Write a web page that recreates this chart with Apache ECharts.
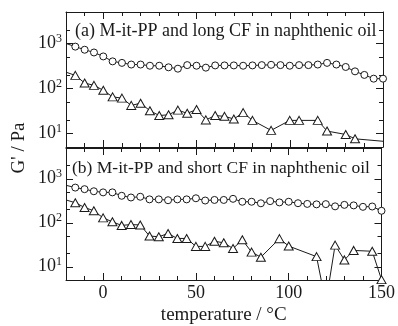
<!DOCTYPE html>
<html><head><meta charset="utf-8">
<script src="https://cdn.jsdelivr.net/npm/echarts@6/dist/echarts.min.js"></script>
<style>html,body{margin:0;padding:0;background:#fff}#c{width:398px;height:326px}</style>
</head><body><div id="c"></div>
<script>
// ---- data (G' in Pa versus temperature in °C) ----
const temperatures = [-20,-15,-10,-5,0,5,10,15,20,25,30,35,40,45,50,55,60,65,70,75,80,85,90,95,100,105,110,115,120,125,130,135,140,145,150];
// (a) long CF
const longCircles   = [1000,850,725,630,515,400,370,340,340,320,320,295,275,330,320,290,325,325,325,320,325,330,335,330,320,330,330,340,370,340,300,240,200,165,165];
const longTriangles = [230,195,132,117,91,65,61,42,47,32,25,26,33,28,34,20,25,24,21,29,19.5,null,11.7,null,19.5,19.5,null,19.5,11.3,null,9.5,7.6,null,null,6.7];
// (b) short CF
const shortCircles   = [710,630,580,520,490,490,410,375,390,340,340,325,340,340,360,320,330,330,350,300,300,277,310,290,300,278,268,262,265,236,255,248,230,234,187];
const shortTriangles = [330,285,223,187,129,105,87,91,89,50,48,57,44,44,29,29,38,35,26,41,21.5,16.5,null,43.5,29.5,null,null,17,1.5,31,14.3,23.5,null,22.5,5.1];
const panelTitles = ['(a) M-it-PP and long CF in naphthenic oil', '(b) M-it-PP and short CF in naphthenic oil'];
const xTickLabels = [0, 50, 100, 150];
const yDecades = [10, 100, 1000];
const yMinorValues = [20, 50, 200, 500, 2000];
const xTitle = 'temperature / °C';
const yTitle = "G' / Pa";

// ---- chart ----
const FONT = 'Liberation Serif';
const INK = '#1a1a1a';
const Y_MIN = 5, Y_MAX = 5000;
const lg = Math.log10;
const grids = [
  {left: 66, top: 12, width: 317, height: 135},
  {left: 66, top: 148, width: 317, height: 135}
];
const xAxes = [], yAxes = [], series = [];
const lineStyle = {color: INK, width: 1};

function addX(g, pos, major) {
  const ax = {
    gridIndex: g, type: 'value', min: -20, max: 150, position: pos,
    axisLine: {show: !major, onZero: false, lineStyle: lineStyle},
    axisTick: {show: true, inside: true, length: major ? 7 : 4, lineStyle: lineStyle},
    axisLabel: {show: false},
    splitLine: {show: false}
  };
  if (major) ax.axisTick.customValues = xTickLabels;
  else ax.interval = 10;
  if (major && g === 1 && pos === 'bottom') {
    ax.axisLabel = {show: true, customValues: xTickLabels, margin: 4,
      fontFamily: FONT, fontSize: 18, color: INK};
    ax.name = xTitle; ax.nameLocation = 'middle'; ax.nameGap = 26;
    ax.nameTextStyle = {fontFamily: FONT, fontSize: 19, color: INK};
  }
  xAxes.push(ax);
  return xAxes.length - 1;
}
function addYTicks(g, pos, major) {
  const ax = {
    gridIndex: g, type: 'value', min: lg(Y_MIN), max: lg(Y_MAX), position: pos,
    axisLine: {show: major, onZero: false, lineStyle: lineStyle},
    axisTick: {show: true, inside: true, length: major ? 7 : 4, lineStyle: lineStyle,
      customValues: (major ? yDecades : yMinorValues).map(lg)},
    axisLabel: {show: false},
    splitLine: {show: false}
  };
  if (major && pos === 'left') {
    ax.axisLabel = {show: true, customValues: yDecades.map(lg), margin: 4,
      formatter: v => '{b|10}{s|' + Math.round(v) + '}',
      rich: {
        b: {fontFamily: FONT, fontSize: 18, color: INK},
        s: {fontFamily: FONT, fontSize: 12, color: INK, padding: [0, 0, 9, 0]}
      }};
  }
  yAxes.push(ax);
}

const panelData = [[longCircles, longTriangles], [shortCircles, shortTriangles]];
// points whose markers fall outside the frame in the original (line only)
const lineOnly = [[[-20], [-20, 150]], [[-20], [-20]]];

grids.forEach((gr, g) => {
  const xi = addX(g, 'bottom', false);
  addX(g, 'bottom', true);
  addX(g, 'top', false);
  addX(g, 'top', true);
  yAxes.push({gridIndex: g, type: 'log', min: Y_MIN, max: Y_MAX, show: false});
  const yi = yAxes.length - 1;
  addYTicks(g, 'left', true);
  addYTicks(g, 'left', false);
  addYTicks(g, 'right', true);
  addYTicks(g, 'right', false);
  panelData[g].forEach((vals, k) => {
    const data = temperatures.map((t, i) => {
      if (vals[i] === null) return [t, null];
      if (lineOnly[g][k].includes(t)) return {value: [t, vals[i]], symbol: 'none'};
      return [t, vals[i]];
    }).filter(d => Array.isArray(d) ? d[1] !== null : true);
    series.push({
      type: 'line', xAxisIndex: xi, yAxisIndex: yi, data: data,
      symbol: k === 0 ? 'circle' : 'triangle',
      symbolSize: k === 0 ? 7 : [9, 8],
      lineStyle: {color: INK, width: 1},
      itemStyle: {color: '#fff', borderColor: INK, borderWidth: 1},
      clip: true, animation: false, z: k === 0 ? 3 : 2
    });
  });
});

const chart = echarts.init(document.getElementById('c'), null, {renderer: 'canvas'});
chart.setOption({
  backgroundColor: '#fff',
  animation: false,
  grid: grids,
  xAxis: xAxes,
  yAxis: yAxes,
  series: series,
  graphic: [
    {type: 'text', left: 75, top: 22, z: 10,
      style: {text: panelTitles[0], fontFamily: FONT, fontSize: 18, fill: INK}},
    {type: 'text', left: 72, top: 159, z: 10,
      style: {text: panelTitles[1], fontFamily: FONT, fontSize: 17.5, fill: INK}},
    {type: 'text', x: 19, y: 148, rotation: Math.PI / 2, z: 10,
      style: {text: yTitle, fontFamily: FONT, fontSize: 19, fill: INK,
        textAlign: 'center', textVerticalAlign: 'middle'}}
  ]
});
</script>
</body></html>
